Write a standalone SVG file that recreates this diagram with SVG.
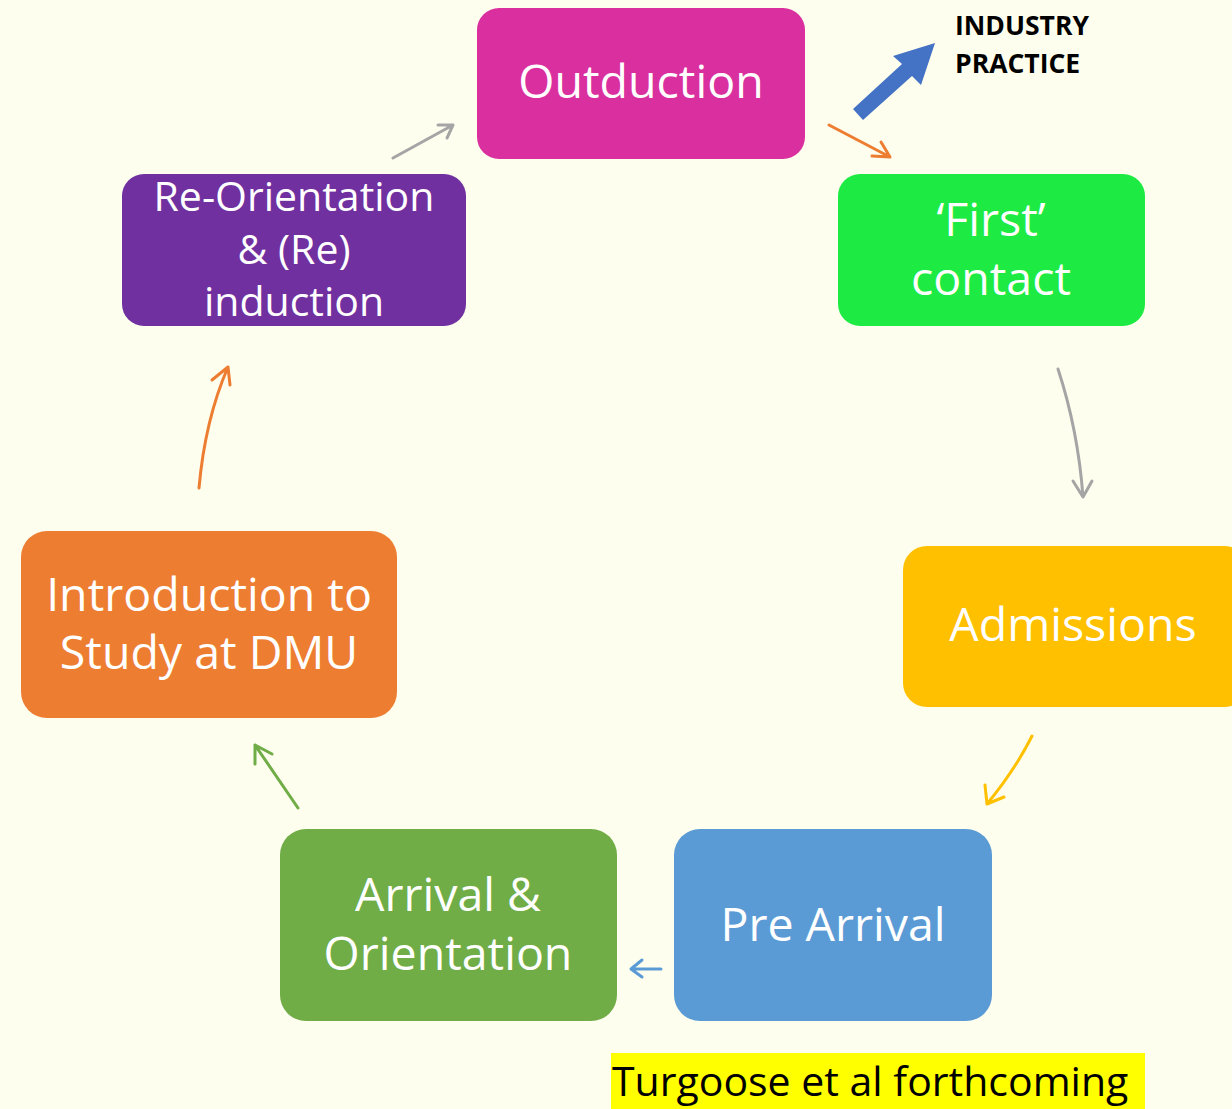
<svg xmlns="http://www.w3.org/2000/svg" width="1232" height="1109" viewBox="0 0 1232 1109">
<style>
.lbl{font-family:"Open Sans","Noto Sans",sans-serif;fill:#fff;text-anchor:middle}
.big{font-size:46.5px}
.mid{font-size:41px}
.con{fill:none;stroke-width:3;stroke-linecap:round;stroke-linejoin:round}
</style>
<rect width="1232" height="1109" fill="#FEFEEE"/>
<g id="outduction"><rect x="477" y="8" width="328" height="151" rx="22" fill="#DA309F"/><text class="lbl big" x="641" y="98">Outduction</text></g>
<g id="first-contact"><rect x="838" y="174" width="307" height="152" rx="22" fill="#1DEB43"/><text class="lbl big" x="991" y="236">‘First’</text><text class="lbl big" x="991" y="295">contact</text></g>
<g id="admissions"><rect x="903" y="546" width="345" height="161" rx="24" fill="#FFC000"/><text class="lbl big" x="1073" y="641">Admissions</text></g>
<g id="pre-arrival"><rect x="674" y="829" width="318" height="192" rx="26" fill="#5B9BD5"/><text class="lbl big" x="833" y="941">Pre Arrival</text></g>
<g id="arrival-orientation"><rect x="280" y="829" width="337" height="192" rx="26" fill="#70AD47"/><text class="lbl big" x="448" y="911">Arrival &amp;</text><text class="lbl big" x="448" y="970">Orientation</text></g>
<g id="introduction"><rect x="21" y="531" width="376" height="187" rx="26" fill="#ED7D31"/><text class="lbl big" x="209" y="611">Introduction to</text><text class="lbl big" x="209" y="669">Study at DMU</text></g>
<g id="re-orientation"><rect x="122" y="174" width="344" height="152" rx="22" fill="#7030A0"/><text class="lbl mid" x="294" y="211">Re-Orientation</text><text class="lbl mid" x="294" y="264">&amp; (Re)</text><text class="lbl mid" x="294" y="316">induction</text></g>
<g id="industry-practice"><text x="955" y="35" font-family="Open Sans, Noto Sans, sans-serif" font-weight="bold" font-size="26.5" fill="#000">INDUSTRY</text><text x="955" y="73" font-family="Open Sans, Noto Sans, sans-serif" font-weight="bold" font-size="26.5" fill="#000">PRACTICE</text></g>
<g id="citation"><rect x="611" y="1053" width="534" height="56" fill="#FFFF00"/><text x="612" y="1096" font-family="Open Sans, Noto Sans, sans-serif" font-size="41" fill="#000">Turgoose et al forthcoming</text></g>
<g id="connectors">
<path class="con" stroke="#A5A5A5" d="M393 158 L453 125 M438 125 L453 125 L447 138"/>
<path class="con" stroke="#ED7D31" d="M829 125 L890 157 M872 156 L890 157 L881 142"/>
<path fill="#4472C4" d="M853 109 L902 64 L893 56 L935 43 L921 85 L912 76 L863 120 Z"/>
<path class="con" stroke="#A5A5A5" d="M1058 369 Q1078 430 1083 497 M1073 481 L1083 497 L1092 481"/>
<path class="con" stroke="#FFC000" d="M1032 736 Q1015 770 987 804 M985 785 L987 804 L1004 797"/>
<path class="con" stroke="#5B9BD5" d="M661 969 L631 969 M642 960 L631 969 L642 977"/>
<path class="con" stroke="#70AD47" d="M298 808 L255 745 M255 764 L255 745 L272 754"/>
<path class="con" stroke="#ED7D31" d="M199 488 Q205 420 228 367 M212 380 L228 367 L230 385"/>
</g>
</svg>
